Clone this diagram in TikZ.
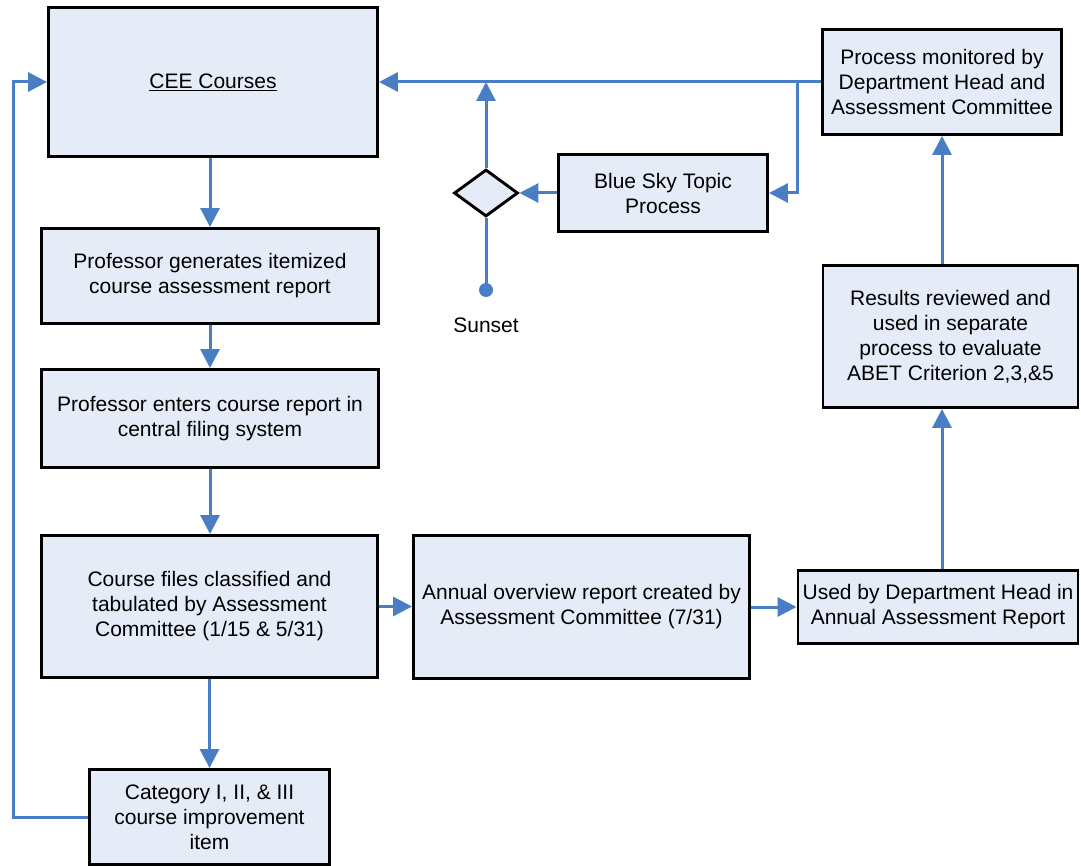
\documentclass[tikz,border=0pt]{standalone}
\usepackage{fontspec}
\setmainfont{Liberation Sans}
\usetikzlibrary{arrows.meta,shapes.geometric}
\definecolor{boxfill}{HTML}{E6ECF7}
\definecolor{linkblue}{HTML}{4A7EC4}
\begin{document}
\begin{tikzpicture}[x=1pt,y=-1pt,
  box/.style={draw=black,line width=2.9pt,fill=boxfill,align=center,inner sep=2pt,
    font=\fontsize{21}{25}\selectfont},
  conn/.style={draw=linkblue,line width=3pt},
  arr/.style={conn,-{Triangle[length=19pt,width=19pt]}},
  dia/.style={diamond,draw=black,line width=2.9pt,fill=boxfill,aspect=1.36,inner sep=0pt,
    minimum width=64pt,minimum height=47pt},
  lbl/.style={font=\fontsize{21}{25}\selectfont}]
\useasboundingbox (0,0) rectangle (1081,866);
\node[box,minimum width=329pt,minimum height=149pt] (cee) at (213,82) {\underline{CEE Courses}};
\node[box,minimum width=337pt,minimum height=95pt] (pg) at (210,276) {Professor generates itemized\\course assessment report};
\node[box,minimum width=337pt,minimum height=98pt] (pe) at (210,418.5) {Professor enters course report in\\central filing system};
\node[box,minimum width=336pt,minimum height=142pt] (cf) at (209.5,606.5) {Course files classified and\\tabulated by Assessment\\Committee (1/15 \& 5/31)};
\node[box,minimum width=240pt,minimum height=95pt] (cat) at (209.5,817) {Category I, II, \& III\\course improvement\\item};
\node[box,minimum width=336pt,minimum height=143pt] (ann) at (581.5,607) {Annual overview report created by\\Assessment Committee (7/31)};
\node[box,minimum width=280pt,minimum height=73pt] (used) at (938,607) {Used by Department Head in\\Annual Assessment Report};
\node[box,minimum width=255pt,minimum height=142pt] (res) at (950.5,336.5) {Results reviewed and\\used in separate\\process to evaluate\\ABET Criterion 2,3,\&5};
\node[box,minimum width=239pt,minimum height=105pt] (pm) at (942,82) {Process monitored by\\Department Head and\\Assessment Committee};
\node[box,minimum width=209pt,minimum height=77pt] (bs) at (663,193) {Blue Sky Topic\\Process};
\node[dia] (d) at (486,193) {};
\coordinate (sun) at (486,290);
\node[lbl] (sunlbl) at (486,325) {Sunset};
\coordinate (lb) at (13,82);
\coordinate (br) at (797,82);
% vertical chain
\draw[arr] (cee.south -| pg.north) -- (pg.north);
\draw[arr] (pg.south) -- (pe.north);
\draw[arr] (pe.south) -- (cf.north -| pe.south);
\draw[arr] (cf.south -| cat.north) -- (cat.north);
% feedback loop
\draw[arr] (cat.west) -| (lb) -- (cee.west);
% horizontal chain
\draw[arr] (cf.east) -- (cf.east -| ann.west);
\draw[arr] (ann.east) -- (ann.east -| used.west);
\draw[arr] (pm.south |- used.north) -- (pm.south |- res.south);
\draw[arr] (res.north -| pm.south) -- (pm.south);
% top return
\draw[arr] (pm.west) -- (cee.east);
\draw[arr] (br) |- (bs.east);
\draw[arr] (bs.west) -- (d.east);
\draw[arr] (d.north) -- (d.north |- cee.east);
\draw[conn] (d.south) -- (sun);
\fill[linkblue] (sun) circle (7pt);
\end{tikzpicture}
\end{document}
